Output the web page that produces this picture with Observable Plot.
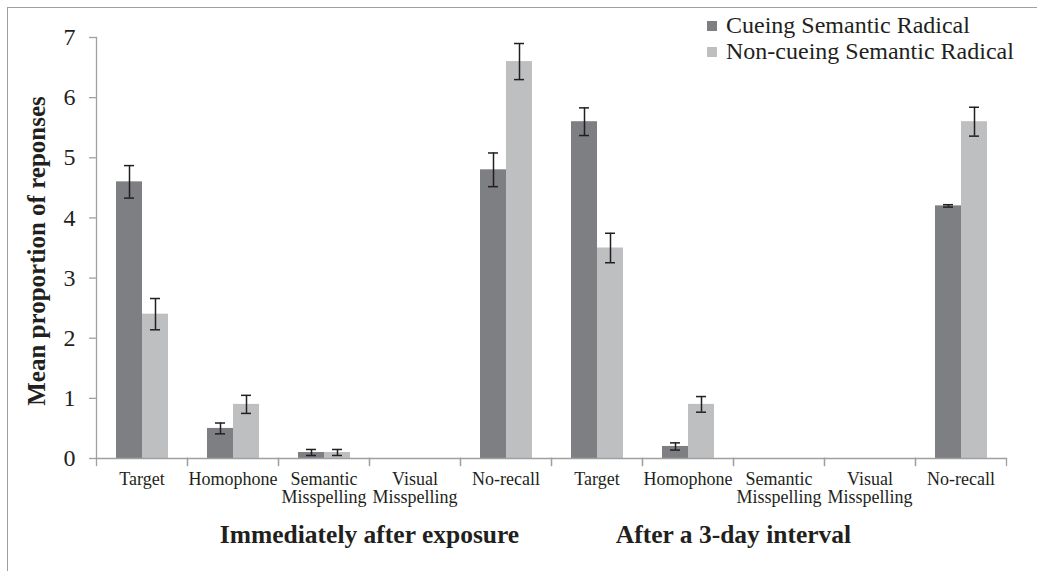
<!DOCTYPE html>
<html><head><meta charset="utf-8">
<script src="https://cdn.jsdelivr.net/npm/d3@7"></script>
<script src="https://cdn.jsdelivr.net/npm/@observablehq/plot@0.6"></script>
<style>
body{margin:0;background:#fff;}
#fig{position:relative;width:1037px;height:571px;overflow:hidden;font-family:"Liberation Serif","Times New Roman",Times,"DejaVu Serif",serif;color:#231f20;}
#fig svg{position:absolute;left:0;top:0;}
#fig svg text{font-family:"Liberation Serif","Times New Roman",Times,"DejaVu Serif",serif;}
#border{position:absolute;left:7px;top:7px;width:1100px;height:700px;border-top:1.5px solid #a0a0a0;border-left:1.5px solid #a0a0a0;}
#legend{position:absolute;left:707px;top:13px;font-size:24px;line-height:25.5px;white-space:nowrap;}
.sw{display:inline-block;width:10px;height:10px;margin-right:9px;vertical-align:2px;}
#ylabel{position:absolute;left:37px;top:251px;transform:translate(-50%,-50%) rotate(-90deg);font-weight:bold;font-size:25px;white-space:nowrap;}
</style></head><body>
<div id="fig"><div id="border"></div><div id="ylabel"></div><div id="legend"></div></div>
<script>
const categories = ["Target", "Homophone", "Semantic\nMisspelling", "Visual\nMisspelling", "No-recall"];
const phases = ["Immediately after exposure", "After a 3-day interval"];
const phaseLabelAnchors = ["Visual\nMisspelling", "Semantic\nMisspelling"];
const conditions = ["Cueing Semantic Radical", "Non-cueing Semantic Radical"];
const colors = ["#7e7f83", "#bebfc1"];
const cueingMeans = [4.6, 0.5, 0.1, 0, 4.8, 5.6, 0.2, 0, 0, 4.2];
const cueingErrors = [0.27, 0.09, 0.05, 0, 0.28, 0.23, 0.06, 0, 0, 0.02];
const nonCueingMeans = [2.4, 0.9, 0.1, 0, 6.6, 3.5, 0.9, 0, 0, 5.6];
const nonCueingErrors = [0.26, 0.15, 0.05, 0, 0.3, 0.245, 0.13, 0, 0, 0.24];
const yTicks = [0, 1, 2, 3, 4, 5, 6, 7];
const yLabel = "Mean proportion of reponses";

const slots = phases.flatMap((p, pi) => categories.map(c => pi + "|" + c));
const rows = [];
slots.forEach((s, i) => {
  rows.push({slot: s, condition: conditions[0], mean: cueingMeans[i], err: cueingErrors[i]});
  rows.push({slot: s, condition: conditions[1], mean: nonCueingMeans[i], err: nonCueingErrors[i]});
});
const errRows = rows.filter(d => d.err > 0);
const capRows = errRows.flatMap(d => [{...d, v: d.mean - d.err}, {...d, v: d.mean + d.err}]);
const groupRows = phases.map((p, i) => ({phase: p, slot: i + "|" + phaseLabelAnchors[i]}));

const ink = "#231f20", axisGrey = "#a0a0a0";
const serif = '"Liberation Serif","Times New Roman",Times,"DejaVu Serif",serif';
const plotH = 571 - 37 - 113;

const chart = Plot.plot({
  width: 1037, height: 571,
  marginLeft: 93, marginRight: 29, marginTop: 37, marginBottom: 113,
  style: {fontFamily: serif, color: ink, background: "transparent", overflow: "visible"},
  fx: {domain: slots, padding: 0, label: null, axis: null},
  x: {domain: conditions, paddingInner: 0, paddingOuter: 0.725, axis: null},
  y: {domain: [0, 7], axis: null},
  color: {domain: conditions, range: colors},
  marks: [
    Plot.barY(rows, {fx: "slot", x: "condition", y: "mean", fill: "condition", inset: 0}),
    Plot.ruleX(errRows, {fx: "slot", x: "condition", y1: d => d.mean - d.err, y2: d => d.mean + d.err, stroke: ink, strokeWidth: 1.5}),
    Plot.tickY(capRows, {fx: "slot", x: "condition", y: "v", stroke: ink, strokeWidth: 1.5, insetLeft: 8, insetRight: 8}),
    Plot.frame({anchor: "bottom", stroke: axisGrey, strokeWidth: 1.3, strokeOpacity: 1}),
    Plot.frame({anchor: "left", facetAnchor: "left", stroke: axisGrey, strokeWidth: 1.3, strokeOpacity: 1}),
    Plot.frame({anchor: "left", insetTop: plotH, insetBottom: -7, stroke: axisGrey, strokeWidth: 1.3, strokeOpacity: 1}),
    Plot.frame({anchor: "right", insetTop: plotH, insetBottom: -7, stroke: axisGrey, strokeWidth: 1.3, strokeOpacity: 1}),
    Plot.axisY({ticks: yTicks, tickFormat: d3.format("d"), tickSize: 7, tickPadding: 14, fontSize: 24, fontFamily: serif, stroke: axisGrey, strokeWidth: 1.3, fill: ink, label: null}),
    Plot.axisFx({anchor: "bottom", tickSize: 0, tickPadding: 14, fontSize: 18, fontFamily: serif, lineHeight: 1.0, fill: ink, label: null, tickFormat: s => s.split("|")[1]}),
    Plot.text(groupRows, {fx: "slot", text: "phase", frameAnchor: "bottom-left", textAnchor: "middle", dy: 84, fontSize: 25.5, fontFamily: serif, fontWeight: "bold", fill: ink})
  ]
});
document.getElementById("fig").appendChild(chart);
document.getElementById("ylabel").textContent = yLabel;
const lg = document.getElementById("legend");
conditions.forEach((c, i) => {
  const row = document.createElement("div");
  const sw = document.createElement("span");
  sw.className = "sw"; sw.style.background = colors[i];
  row.appendChild(sw);
  row.appendChild(document.createTextNode(c));
  lg.appendChild(row);
});
</script>
</body></html>
